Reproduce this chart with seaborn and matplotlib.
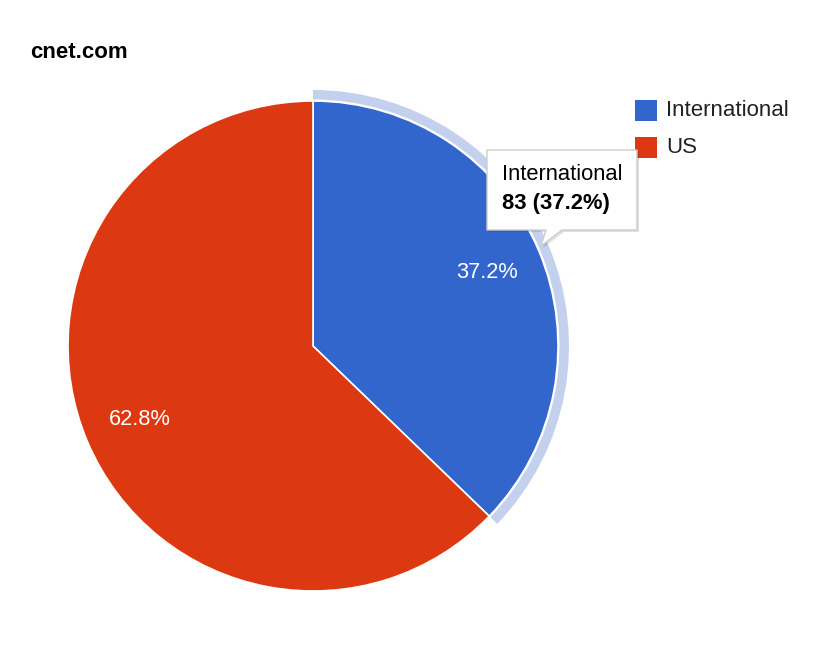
import matplotlib
matplotlib.use("Agg")
import matplotlib.pyplot as plt
from matplotlib.patches import Wedge, Rectangle, Polygon
import seaborn as sns

categories = ["International", "US"]
values = [83, 140]
colors = ["#3366CC", "#DC3912"]
title = "cnet.com"
tooltip_title = "International"
tooltip_value = "83 (37.2%)"

sns.set_theme(style="white")
plt.rcParams['font.family'] = ['Liberation Sans', 'DejaVu Sans']

W, H = 820, 647
fig = plt.figure(figsize=(W / 100, H / 100), dpi=100)
ax = fig.add_axes([0, 0, 1, 1])

def Y(y):
    return H - y

cx, cy, r = 313, 346, 245
wedges, texts, autotexts = ax.pie(
    values, colors=colors, startangle=90, counterclock=False,
    radius=r, center=(cx, Y(cy)), autopct='%1.1f%%', pctdistance=0.77,
    wedgeprops=dict(edgecolor='white', linewidth=1.2),
    textprops=dict(color='white', fontsize=15.7), frame=True)

# highlight ring on the first slice
frac = values[0] / sum(values)
ax.add_patch(Wedge((cx, Y(cy)), r + 11, 90 - frac * 360, 90, width=9.5,
                   facecolor='#C3D1EF', edgecolor='none', zorder=1))

ax.set_xlim(0, W)
ax.set_ylim(0, H)
ax.set_aspect('equal')
ax.axis('off')

# title
ax.text(30, Y(52), title, fontsize=16, fontweight='bold', color='black',
        va='center', ha='left')

# legend
for i, (cat, col) in enumerate(zip(categories, colors)):
    y0 = 100 + i * 37
    ax.add_patch(Rectangle((635, Y(y0 + 21)), 22, 21, facecolor=col,
                           edgecolor='none', zorder=5))
    ax.text(666, Y(y0 + 11), cat, fontsize=16, color='#222222',
            va='center', ha='left', zorder=5)

# tooltip
pts = [(487, 150), (637, 150), (637, 230), (562, 230), (541, 246),
       (546, 230), (487, 230)]
shadow = [(x + 2, Y(y + 2)) for x, y in pts]
ax.add_patch(Polygon(shadow, closed=True, facecolor='#000000', alpha=0.12,
                     edgecolor='none', zorder=6))
ax.add_patch(Polygon([(x, Y(y)) for x, y in pts], closed=True,
                     facecolor='white', edgecolor='#cccccc', linewidth=1,
                     zorder=7))
ax.text(502, Y(175), tooltip_title, fontsize=15.8, color='black',
        va='center', ha='left', zorder=8)
ax.text(502, Y(204), tooltip_value, fontsize=15.8, fontweight='bold',
        color='black', va='center', ha='left', zorder=8)

fig.savefig("out.png", dpi=100)
